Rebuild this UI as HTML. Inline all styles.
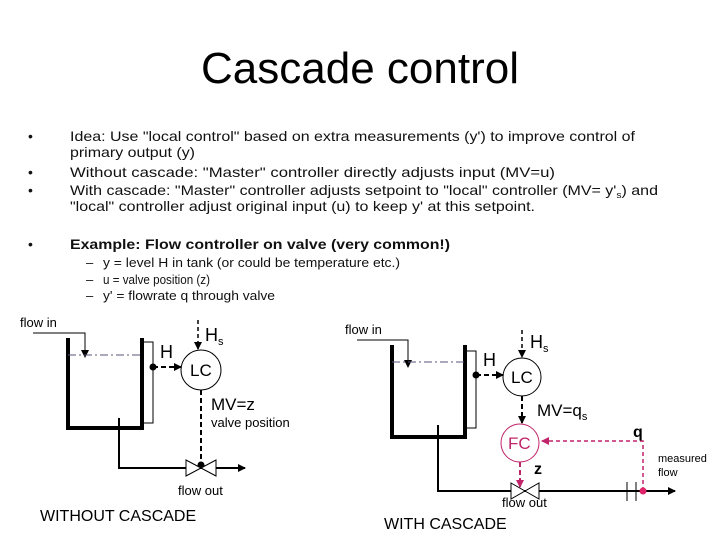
<!DOCTYPE html>
<html><head><meta charset="utf-8"><style>
html,body{margin:0;padding:0;background:#fff;}
svg{display:block;font-family:"Liberation Sans",Arial,sans-serif;}
</style></head><body>
<svg width="720" height="540" viewBox="0 0 720 540" xmlns="http://www.w3.org/2000/svg">
<defs>
<marker id="a" markerWidth="8" markerHeight="8" refX="7" refY="4" orient="auto" markerUnits="userSpaceOnUse"><path d="M0,0 L8,4 L0,8z" fill="#000"/></marker>
<marker id="m" markerWidth="8" markerHeight="8" refX="7" refY="4" orient="auto" markerUnits="userSpaceOnUse"><path d="M0,0 L8,4 L0,8z" fill="#c0246a"/></marker>
</defs>
<text x="360" y="83" font-size="44" text-anchor="middle">Cascade control</text>
<g font-size="14" fill="#111">
<text x="28" y="141">•</text><text x="70" y="141" textLength="565" lengthAdjust="spacingAndGlyphs">Idea: Use "local control" based on extra measurements (y') to improve control of</text>
<text x="70" y="157" textLength="125" lengthAdjust="spacingAndGlyphs">primary output (y)</text>
<text x="28" y="177">•</text><text x="70" y="177" textLength="485" lengthAdjust="spacingAndGlyphs">Without cascade: "Master" controller directly adjusts input (MV=u)</text>
<text x="28" y="195">•</text><text x="70" y="195" textLength="588" lengthAdjust="spacingAndGlyphs">With cascade: "Master" controller adjusts setpoint to "local" controller (MV= y'<tspan font-size="9" dy="3">s</tspan><tspan dy="-3">) and</tspan></text>
<text x="70" y="211" textLength="465" lengthAdjust="spacingAndGlyphs">"local" controller adjust original input (u) to keep y' at this setpoint.</text>
<text x="28" y="249">•</text><text x="70" y="249" font-weight="bold" textLength="380" lengthAdjust="spacingAndGlyphs">Example: Flow controller on valve (very common!)</text>
</g>
<g font-size="13" fill="#111">
<text x="86" y="267">–</text><text x="103" y="267" textLength="297" lengthAdjust="spacingAndGlyphs">y = level H in tank (or could be temperature etc.)</text>
<text x="86" y="284">–</text><text x="103" y="284" textLength="107" lengthAdjust="spacingAndGlyphs">u = valve position (z)</text>
<text x="86" y="300">–</text><text x="103" y="300" textLength="172" lengthAdjust="spacingAndGlyphs">y' = flowrate q through valve</text>
</g>

<!-- Left diagram -->
<g stroke="#000" fill="none">
<text x="20" y="327" font-size="13" fill="#000" stroke="none">flow in</text>
<polyline points="33,333 85,333 85,357" stroke-width="1" marker-end="url(#a)"/>
<polyline points="68,338 68,428 142,428 142,338" stroke-width="4"/>
<line x1="68" y1="355" x2="142" y2="355" stroke="#557" stroke-width="1" stroke-dasharray="8,3,2,3"/>
<rect x="142" y="342" width="11" height="81" stroke-width="1"/>
<circle cx="153" cy="367" r="3" fill="#000"/>
<line x1="153" y1="367" x2="181" y2="367" stroke-width="2" stroke-dasharray="5,3" marker-end="url(#a)"/>
<circle cx="201" cy="370" r="20" stroke-width="1"/>
<line x1="198" y1="320" x2="198" y2="349" stroke-width="1.5" stroke-dasharray="4,3" marker-end="url(#a)"/>
<line x1="201" y1="390" x2="201" y2="465" stroke-width="2" stroke-dasharray="5,3"/>
<circle cx="201" cy="465" r="3" fill="#000"/>
<polyline points="119,418 119,468 245,468" stroke-width="2" marker-end="url(#a)"/>
<path d="M186,460 L216,476 L216,460 L186,476z" stroke-width="1" fill="#fff"/>
</g>
<g font-size="18" fill="#000">
<text x="160" y="358">H</text>
<text x="205" y="341">H<tspan font-size="11" dy="4">s</tspan></text>
<text x="190" y="376" font-size="17">LC</text>
<text x="211" y="410" font-size="17">MV=z</text>
<text x="211" y="427" font-size="13">valve position</text>
<text x="178" y="495" font-size="13">flow out</text>
<text x="40" y="521" font-size="16">WITHOUT CASCADE</text>
</g>

<!-- Right diagram -->
<g stroke="#000" fill="none">
<text x="345" y="334" font-size="13" fill="#000" stroke="none">flow in</text>
<polyline points="357,340 408,340 408,367" stroke-width="1" marker-end="url(#a)"/>
<polyline points="392,345 392,437 465,437 465,345" stroke-width="4"/>
<line x1="392" y1="362" x2="465" y2="362" stroke="#557" stroke-width="1" stroke-dasharray="8,3,2,3"/>
<rect x="465" y="351" width="11" height="77" stroke-width="1"/>
<circle cx="476" cy="375" r="3" fill="#000"/>
<line x1="476" y1="375" x2="503" y2="375" stroke-width="2" stroke-dasharray="5,3" marker-end="url(#a)"/>
<circle cx="522" cy="377" r="19" stroke-width="1"/>
<line x1="522" y1="330" x2="522" y2="357" stroke-width="1.5" stroke-dasharray="4,3" marker-end="url(#a)"/>
<line x1="522" y1="396" x2="522" y2="423" stroke-width="2" stroke-dasharray="5,3" marker-end="url(#a)"/>
<circle cx="520" cy="443" r="19" stroke="#c0246a" stroke-width="1"/>
<line x1="520" y1="462" x2="520" y2="487" stroke="#c0246a" stroke-width="2" stroke-dasharray="5,3" marker-end="url(#m)"/>
<polyline points="643,491 643,441 542,441" stroke="#c0246a" stroke-width="1.5" stroke-dasharray="4,3" marker-end="url(#m)"/>
<polyline points="438,425 438,491 675,491" stroke-width="2" marker-end="url(#a)"/>
<path d="M511,483 L539,499 L539,483 L511,499z" stroke-width="1" fill="#fff"/>
<line x1="627" y1="482" x2="627" y2="501" stroke-width="1"/>
<line x1="636" y1="482" x2="636" y2="501" stroke-width="1"/>
<circle cx="643" cy="491" r="3.5" fill="#e0246a" stroke="none"/>
</g>
<g font-size="17" fill="#000">
<text x="483" y="366" font-size="18">H</text>
<text x="530" y="348" font-size="18">H<tspan font-size="11" dy="4">s</tspan></text>
<text x="511" y="383">LC</text>
<text x="537" y="416">MV=q<tspan font-size="11" dy="4">s</tspan></text>
<text x="508" y="449" fill="#c0246a">FC</text>
<text x="534" y="474" font-weight="bold" font-size="16">z</text>
<text x="633" y="437" font-weight="bold" font-size="16">q</text>
<text x="658" y="462" font-size="11">measured</text>
<text x="658" y="476" font-size="11">flow</text>
<text x="502" y="507" font-size="13">flow out</text>
<text x="384" y="529" font-size="16">WITH CASCADE</text>
</g>
</svg>
</body></html>
